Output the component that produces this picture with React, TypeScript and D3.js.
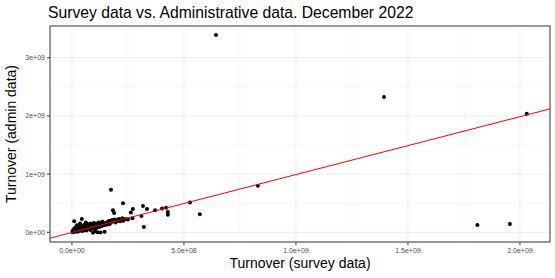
import React from 'react';
import * as d3 from 'd3';

// values in millions
const surveyTurnover = [
  2, 3, 5, 6, 8, 10, 10, 12, 14, 15, 18, 20, 22, 24, 26, 28, 30, 32, 34, 36, 38, 40, 42, 44, 46, 48, 50, 52, 54, 56,
  58, 60, 62, 64, 66, 68, 70, 72, 74, 76, 78, 80, 82, 84, 86, 88, 90, 92, 94, 96, 98, 100, 102, 104, 106, 108, 110,
  112, 114, 116, 118, 120, 122, 125, 128, 130, 133, 136, 140, 143, 146, 150, 153, 156, 160, 163, 166, 170, 173, 176,
  180, 185, 190, 195, 200, 205, 210, 215, 220, 225, 230, 240, 250,
  174, 228, 183, 188, 263, 272, 317, 335, 371, 402, 420, 428, 428, 321, 310, 270, 527, 571, 830, 643, 1393, 2030,
  1810, 1955,
];
const adminTurnover = [
  5, 20, 2, 40, 15, 60, 190, 10, 30, 80, 50, 25, 120, 8, 60, 40, 100, 20, 70, 150, 45, 30, 90, 230, 60, 20, 110, 75,
  40, 130, 55, 90, 170, 30, 70, 110, 50, 140, 85, 60, 120, 95, 40, 150, 75, 110, 60, 130, -10, 90, 160, 70, 120, 20,
  140, 100, 80, 150, 0, 120, 100, 170, 90, 130, -5, 150, 110, 180, 140, 120, 10, 160, 130, 170, 150, 190, 140, 200,
  160, 180, 210, 190, 220, 170, 210, 200, 230, 190, 220, 240, 200, 230, 220,
  730, 500, 380, 330, 340, 400, 450, 400, 380, 410, 420, 350, 300, 90, 280, 240, 510, 310, 800, 3390, 2325, 2035,
  125, 143,
];

const fitSlope = 0.995;
const fitIntercept = -3e6;

const xTicks = [0, 5e8, 1e9, 1.5e9, 2e9];
const yTicks = [0, 1e9, 2e9, 3e9];
const xMinor = [2.5e8, 7.5e8, 1.25e9, 1.75e9];
const yMinor = [5e8, 1.5e9, 2.5e9, 3.5e9];

const W = 555;
const H = 278;
const left = 50;
const right = 550;
const top = 26;
const bottom = 242;

const fmtX = (v: number) => {
  if (v === 0) return '0.0e+00';
  const e = Math.floor(Math.log10(v));
  return `${(v / 10 ** e).toFixed(1)}e+${String(e).padStart(2, '0')}`;
};
const fmtY = (v: number) => {
  if (v === 0) return '0e+00';
  const e = Math.floor(Math.log10(v));
  return `${Math.round(v / 10 ** e)}e+${String(e).padStart(2, '0')}`;
};

const App = () => {
  const x = d3.scaleLinear().domain([-0.098e9, 2.134e9]).range([left, right]);
  const y = d3.scaleLinear().domain([-0.167e9, 3.545e9]).range([bottom, top]);

  const points = surveyTurnover.map((s, i) => [s * 1e6, adminTurnover[i] * 1e6]);
  const [x0, x1] = x.domain();
  const fitLine = d3
    .line<number>()
    .x((d) => x(d))
    .y((d) => y(fitIntercept + fitSlope * d));

  const font = 'Liberation Sans, Arial, sans-serif';

  return (
    <svg width={W} height={H} style={{ position: 'absolute', left: 0, top: 0 }} fontFamily={font}>
      <rect x={0} y={0} width={W} height={H} fill="#fff" />
      <defs>
        <clipPath id="panel">
          <rect x={left} y={top} width={right - left} height={bottom - top} />
        </clipPath>
      </defs>
      {xMinor.map((t) => (
        <line key={'xm' + t} x1={x(t)} x2={x(t)} y1={top} y2={bottom} stroke="#ebebeb" strokeWidth={0.5} />
      ))}
      {yMinor.map((t) => (
        <line key={'ym' + t} x1={left} x2={right} y1={y(t)} y2={y(t)} stroke="#ebebeb" strokeWidth={0.5} />
      ))}
      {xTicks.map((t) => (
        <line key={'xg' + t} x1={x(t)} x2={x(t)} y1={top} y2={bottom} stroke="#ebebeb" strokeWidth={1} />
      ))}
      {yTicks.map((t) => (
        <line key={'yg' + t} x1={left} x2={right} y1={y(t)} y2={y(t)} stroke="#ebebeb" strokeWidth={1} />
      ))}
      <g clipPath="url(#panel)">
        {points.map((p, i) => (
          <circle key={i} cx={x(p[0])} cy={y(p[1])} r={2} fill="#000" />
        ))}
        <path d={fitLine([x0, x1]) || ''} fill="none" stroke="red" strokeWidth={1} />
      </g>
      <rect x={left} y={top} width={right - left} height={bottom - top} fill="none" stroke="#333" strokeWidth={1} />
      {xTicks.map((t) => (
        <g key={'xt' + t}>
          <line x1={x(t)} x2={x(t)} y1={bottom} y2={bottom + 3} stroke="#333" />
          <text x={x(t)} y={bottom + 11} fontSize={7} fill="#4d4d4d" textAnchor="middle">
            {fmtX(t)}
          </text>
        </g>
      ))}
      {yTicks.map((t) => (
        <g key={'yt' + t}>
          <line x1={left - 3} x2={left} y1={y(t)} y2={y(t)} stroke="#333" />
          <text x={left - 5} y={y(t) + 2.5} fontSize={7} fill="#4d4d4d" textAnchor="end">
            {fmtY(t)}
          </text>
        </g>
      ))}
      <text x={48} y={18} fontSize={15.7} fill="#000">
        Survey data vs. Administrative data. December 2022
      </text>
      <text x={(left + right) / 2} y={268} fontSize={14} fill="#000" textAnchor="middle">
        Turnover (survey data)
      </text>
      <text
        transform={`translate(16,${(top + bottom) / 2}) rotate(-90)`}
        fontSize={14}
        fill="#000"
        textAnchor="middle"
      >
        Turnover (admin data)
      </text>
    </svg>
  );
};

export default App;
